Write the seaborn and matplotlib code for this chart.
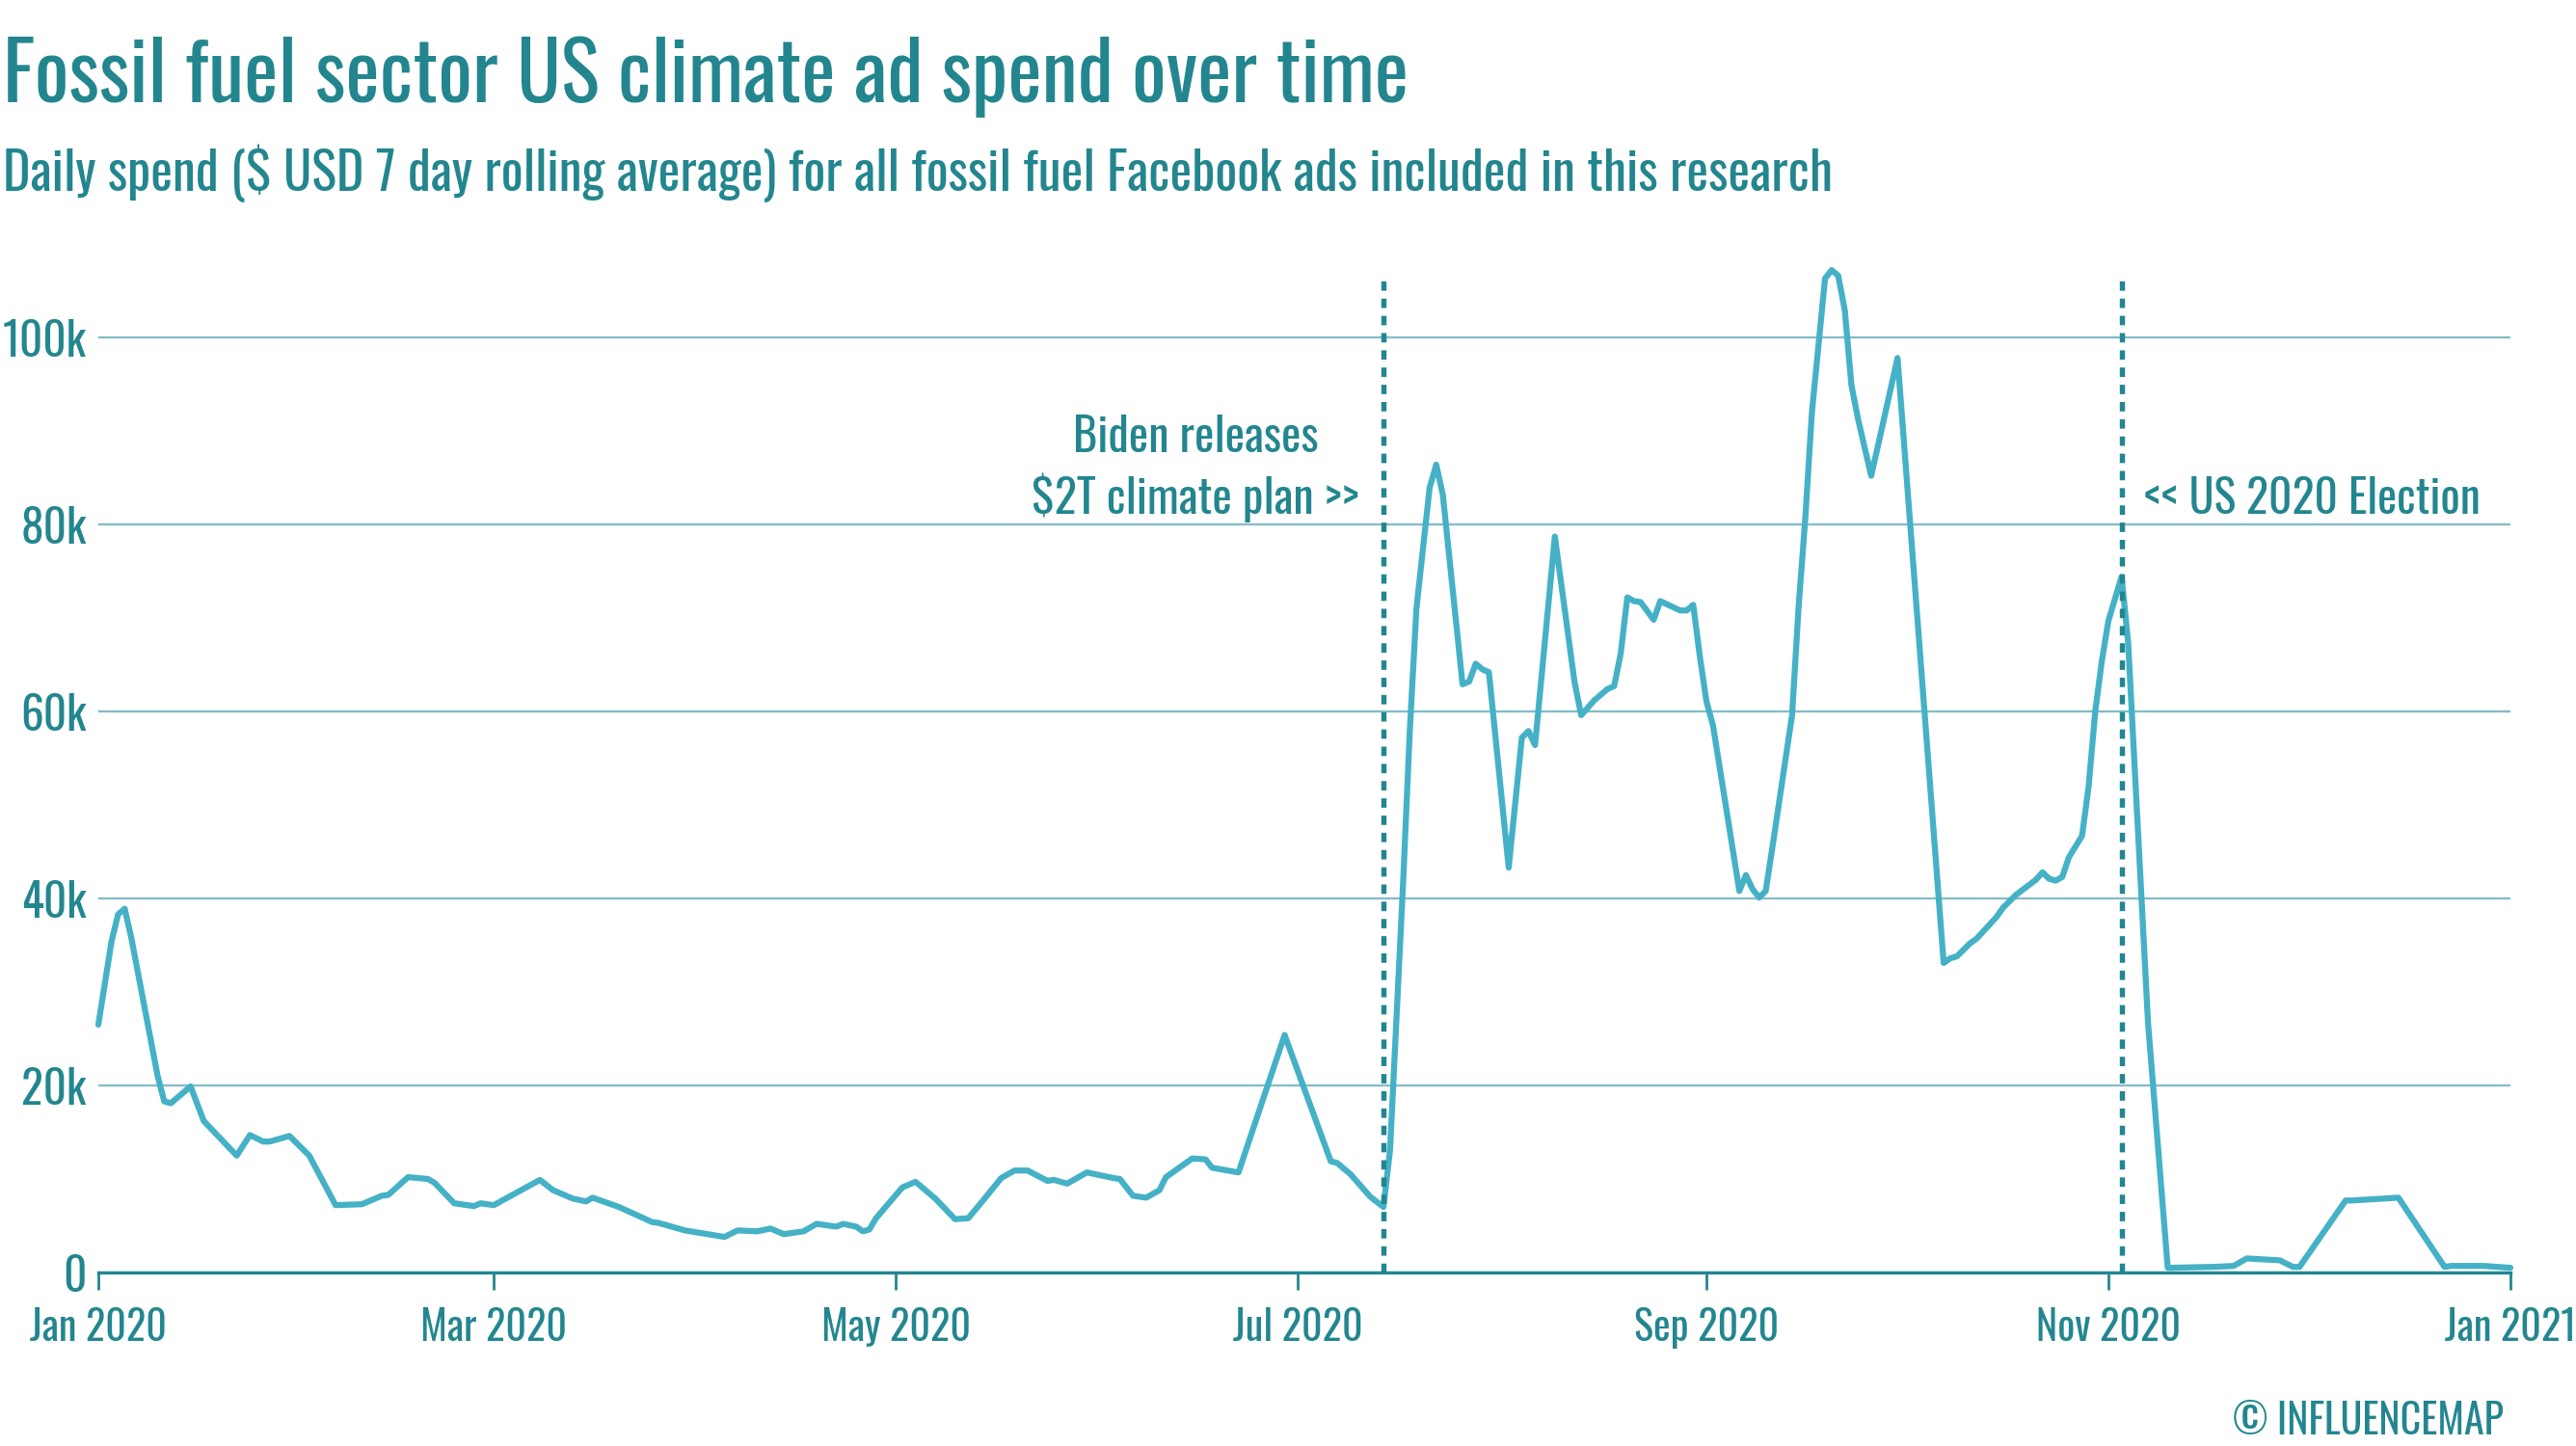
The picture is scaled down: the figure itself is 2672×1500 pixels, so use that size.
import matplotlib
matplotlib.use("Agg")
import matplotlib.pyplot as plt
import matplotlib.dates as mdates
from matplotlib import font_manager
import numpy as np
import pandas as pd
import seaborn as sns

# ---------------- data ----------------
day_offset = [0, 2, 3, 4, 5, 9, 10, 11, 14, 16, 21, 23, 25, 26, 29, 32, 36, 40, 43, 44,
              47, 50, 51, 54, 57, 58, 60, 67, 69, 72, 74, 75, 77, 79, 84, 85, 89, 95, 97, 100,
              102, 104, 107, 109, 112, 113, 115, 116, 117, 118, 122, 124, 127, 130, 132, 134, 137, 139, 141, 144,
              145, 147, 150, 154, 155, 157, 159, 161, 162, 166, 168, 169, 173, 180, 187, 188, 190, 193, 195, 196,
              198, 199, 200, 202, 203, 204, 207, 208, 209, 210, 211, 214, 216, 217, 218, 221, 224, 225, 227, 229,
              230, 231, 232, 233, 234, 236, 237, 240, 241, 242, 243, 244, 245, 249, 250, 251, 252, 253, 254, 257,
              258, 259, 260, 262, 263, 264, 265, 266, 267, 269, 270, 273, 280, 281, 282, 284, 285, 288, 289, 291,
              294, 295, 296, 297, 298, 299, 301, 302, 303, 304, 305, 307, 308, 311, 314, 321, 324, 326, 331, 333,
              334, 341, 342, 349, 356, 357, 362, 366]
spend_k = [26.5, 35.4, 38.3, 38.9, 35.8, 21.0, 18.3, 18.1, 19.9, 16.2, 12.5, 14.7, 14.0, 14.0, 14.6, 12.5, 7.2, 7.3, 8.2, 8.3,
           10.2, 10.0, 9.6, 7.4, 7.1, 7.4, 7.2, 9.9, 8.8, 7.9, 7.6, 8.0, 7.5, 7.0, 5.4, 5.3, 4.5, 3.8, 4.5, 4.4,
           4.7, 4.1, 4.4, 5.2, 4.9, 5.2, 4.9, 4.4, 4.6, 5.8, 9.1, 9.7, 7.9, 5.7, 5.8, 7.5, 10.1, 10.9, 10.9, 9.8,
           9.9, 9.5, 10.7, 10.1, 10.0, 8.2, 8.0, 8.8, 10.2, 12.2, 12.1, 11.2, 10.7, 25.4, 11.9, 11.7, 10.5, 8.1, 7.0, 13.1,
           42.0, 58.0, 71.0, 83.9, 86.4, 83.2, 62.9, 63.2, 65.1, 64.5, 64.2, 43.3, 57.2, 57.9, 56.4, 78.7, 63.1, 59.6, 61.2, 62.4,
           62.7, 66.2, 72.2, 71.8, 71.7, 69.8, 71.8, 70.8, 70.8, 71.4, 65.9, 61.1, 58.5, 40.8, 42.5, 41.0, 40.1, 40.8, 45.4, 59.6,
           71.3, 80.6, 91.9, 106.3, 107.2, 106.6, 102.9, 94.9, 91.3, 85.2, 88.3, 97.8, 33.1, 33.6, 33.8, 35.2, 35.7, 38.0, 39.0, 40.4,
           42.0, 42.8, 42.1, 41.9, 42.3, 44.4, 46.7, 52.0, 60.0, 65.4, 69.7, 74.4, 67.3, 26.8, 0.5, 0.6, 0.7, 1.5, 1.3, 0.6,
           0.6, 7.7, 7.7, 8.0, 0.6, 0.7, 0.7, 0.5]

y_ticks = [0, 20000, 40000, 60000, 80000, 100000]
y_tick_labels = ["0", "20k", "40k", "60k", "80k", "100k"]
x_tick_dates = ["2020-01-01", "2020-03-01", "2020-05-01", "2020-07-01", "2020-09-01", "2020-11-01", "2021-01-01"]
event_dates = ["2020-07-14", "2020-11-03"]
event_labels = ["Biden releases\n$2T climate plan >>", "<< US 2020 Election"]

title = "Fossil fuel sector US climate ad spend over time"
subtitle = "Daily spend ($ USD 7 day rolling average) for all fossil fuel Facebook ads included in this research"
credit = "\u00a9 INFLUENCEMAP"

df = pd.DataFrame({
    "date": pd.Timestamp("2020-01-01") + pd.to_timedelta(day_offset, unit="D"),
    "spend": np.array(spend_k) * 1000,
})

# ---------------- style ----------------
TEXT = "#23868f"
LINE = "#45b1c6"
GRID = "#86bdc8"

sns.set_theme(style="white")
avail = {f.name for f in font_manager.fontManager.ttflist}
preferred = ["Oswald", "Roboto Condensed", "Barlow Condensed", "DejaVu Sans"]
font = next((f for f in preferred if f in avail), "DejaVu Sans")
plt.rcParams["font.family"] = [font, "DejaVu Sans"]
plt.rcParams["font.weight"] = "light"

W, H = 2672, 1500
fig = plt.figure(figsize=(W / 100, H / 100), dpi=100)
ax = fig.add_axes([102 / W, 1 - 1320 / H, (2604 - 102) / W, (1320 - 253) / H])

sns.lineplot(data=df, x="date", y="spend", ax=ax, color=LINE, linewidth=4.5, clip_on=False)

ax.set_xlim(pd.Timestamp("2020-01-01"), pd.Timestamp("2021-01-01"))
ax.set_ylim(0, 110000)
ax.set_yticks(y_ticks)
ax.yaxis.grid(True, color=GRID, linewidth=1.7)
ax.set_axisbelow(True)
ax.set_xticks(pd.to_datetime(x_tick_dates))
ax.xaxis.set_major_formatter(mdates.DateFormatter("%b %Y"))
ax.set_xlabel("")
ax.set_ylabel("")
for s in ["left", "right", "top"]:
    ax.spines[s].set_visible(False)
ax.spines["bottom"].set_color(TEXT)
ax.spines["bottom"].set_linewidth(2.4)
ax.tick_params(axis="x", colors=TEXT, length=13, width=2.0, pad=13, direction="out", bottom=True)
ax.tick_params(axis="y", colors=TEXT, length=0, pad=9)

for d in event_dates:
    ax.vlines(pd.Timestamp(d), 0, 106500, colors=TEXT, linewidth=3.9, linestyles=(0, (1.8, 1.5)), clip_on=False)

renderer = fig.canvas.get_renderer()


def fit(txt_obj, target_w, max_size):
    txt_obj.set_fontsize(max_size)
    w = txt_obj.get_window_extent(renderer).width
    if w > target_w:
        txt_obj.set_fontsize(max_size * target_w / w)
    return txt_obj.get_fontsize()


t = fig.text(3 / W, 1 - 106 / H, title, color=TEXT, ha="left", va="baseline")
fit(t, 1457, 90)
st = fig.text(3 / W, 1 - 198 / H, subtitle, color=TEXT, ha="left", va="baseline")
fit(st, 1897, 60)

# tick labels
probe = fig.text(0, 0, "Jan 2020")
xtick_size = fit(probe, 142, 50)
probe.set_text("100k")
ytick_size = fit(probe, 87, 50)
probe.remove()
ax.set_yticklabels(y_tick_labels)
for lab in ax.get_xticklabels():
    lab.set_fontsize(xtick_size)
    lab.set_color(TEXT)
for lab in ax.get_yticklabels():
    lab.set_fontsize(ytick_size)
    lab.set_color(TEXT)

ann_y = (1320 - 533) * 103.1
d1 = mdates.date2num(pd.Timestamp(event_dates[0]))
d2 = mdates.date2num(pd.Timestamp(event_dates[1]))
a1 = ax.text(d1 - 28.5, ann_y, event_labels[0], color=TEXT,
             ha="center", va="baseline", multialignment="center", linespacing=1.3)
fit(a1, 339, 50)
a2 = ax.text(d2 + 3.4, ann_y, event_labels[1], color=TEXT, ha="left", va="baseline")
fit(a2, 349, 50)
c = fig.text(2597 / W, 1 - 1488 / H, credit, color=TEXT, ha="right", va="baseline")
fit(c, 281, 50)

fig.savefig("out.png", dpi=100)
